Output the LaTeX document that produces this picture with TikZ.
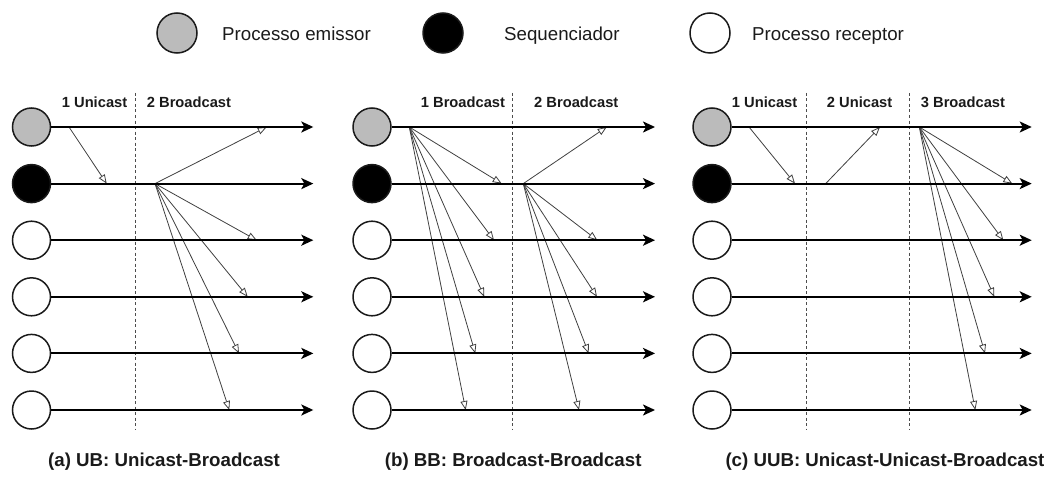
\documentclass[tikz,border=0pt]{standalone}
\usepackage{fontspec}
\setmainfont{Liberation Sans}
\usetikzlibrary{arrows.meta}
\definecolor{emgray}{HTML}{BBBBBB}
\definecolor{ink}{HTML}{1A1A1A}
\def\ya{127}\def\yb{183.6}\def\yc{240.2}\def\yd{296.8}\def\ye{353.4}\def\yf{410}
\begin{document}
\begin{tikzpicture}[x=1pt,y=-1pt,
 proc/.style={circle,draw=ink,line width=1.5pt,minimum size=38pt,inner sep=0pt},
 sender/.style={proc,fill=emgray},
 seqr/.style={proc,fill=black},
 recv/.style={proc,fill=white},
 legproc/.style={minimum size=40pt},
 timeline/.style={draw=black,line width=2pt,-{Stealth[length=12pt,width=11pt,inset=3pt]}},
 msg/.style={draw=black!75,line width=0.8pt,-{Triangle[length=9pt,width=7pt,fill=white,line width=0.8pt]}},
 phase/.style={draw=black!70,line width=0.8pt,dash pattern=on 3pt off 2.5pt},
 lbl/.style={font=\fontsize{14.7}{17}\selectfont\bfseries,text=ink,inner sep=0pt,anchor=base west},
 legtext/.style={font=\fontsize{18.7}{22}\selectfont,text=ink,inner sep=0pt,anchor=base west},
 captext/.style={font=\fontsize{18.7}{22}\selectfont\bfseries,text=ink,inner sep=0pt,anchor=base west}]
\useasboundingbox (0,0) rectangle (1048,476);

% legend
\node[sender,legproc] (lg1) at (177,33) {};
\node[legtext] (lt1) at (222,41) {Processo emissor};
\node[seqr,legproc] (lg2) at (443,33) {};
\node[legtext] (lt2) at (504,41) {Sequenciador};
\node[recv,legproc] (lg3) at (710,33) {};
\node[legtext] (lt3) at (752,41) {Processo receptor};

% phase separators
\foreach \n/\x in {a/135, b/512.7, c1/806, c2/909.3}{
  \coordinate (d\n t) at (\x,93);
  \coordinate (d\n b) at (\x,430);
  \draw[phase] (d\n t) -- (d\n b);
}

% phase labels
\node[lbl] (la1) at (61.7,107.3) {1 Unicast};
\node[lbl] (la2) at (146.7,107.3) {2 Broadcast};
\node[lbl] (lb1) at (420.7,107.3) {1 Broadcast};
\node[lbl] (lb2) at (534,107.3) {2 Broadcast};
\node[lbl] (lc1) at (731.7,107.3) {1 Unicast};
\node[lbl] (lc2) at (826.7,107.3) {2 Unicast};
\node[lbl] (lc3) at (920.7,107.3) {3 Broadcast};

% ---------- panel (a) ----------
\coordinate (aUs) at (69,\ya);
\coordinate (aUt) at (106.7,\yb);
\draw[msg] (aUs) -- (aUt);
\coordinate (aBs) at (155,\yb);
\foreach \n/\x/\y in {1/266.7/\ya,3/256.7/\yc,4/247.7/\yd,5/239/\ye,6/229.3/\yf}{
  \coordinate (aB\n) at (\x,\y);
  \draw[msg] (aBs) -- (aB\n);
}

% ---------- panel (b) ----------
\coordinate (bAs) at (409.3,\ya);
\foreach \n/\x/\y in {2/501.7/\yb,3/494/\yc,4/484.3/\yd,5/475.3/\ye,6/465.7/\yf}{
  \coordinate (bA\n) at (\x,\y);
  \draw[msg] (bAs) -- (bA\n);
}
\coordinate (bBs) at (523.3,\yb);
\foreach \n/\x/\y in {1/606.7/\ya,3/597.3/\yc,4/597/\yd,5/588.7/\ye,6/579/\yf}{
  \coordinate (bB\n) at (\x,\y);
  \draw[msg] (bBs) -- (bB\n);
}

% ---------- panel (c) ----------
\coordinate (cUs) at (749,\ya);
\coordinate (cUt) at (795,\yb);
\draw[msg] (cUs) -- (cUt);
\coordinate (cVs) at (825.7,\yb);
\coordinate (cVt) at (880,\ya);
\draw[msg] (cVs) -- (cVt);
\coordinate (cBs) at (919.3,\ya);
\foreach \n/\x/\y in {2/1012.3/\yb,3/1003.3/\yc,4/994.3/\yd,5/985/\ye,6/975.3/\yf}{
  \coordinate (cB\n) at (\x,\y);
  \draw[msg] (cBs) -- (cB\n);
}

% ---------- processes and timelines ----------
\foreach \p/\cx/\ex in {a/31.5/313.3, b/372/655, c/712/1031.7}{
  \foreach \i/\st/\y in {1/sender/\ya,2/seqr/\yb,3/recv/\yc,4/recv/\yd,5/recv/\ye,6/recv/\yf}{
    \node[\st] (\p\i) at (\cx,\y) {};
    \coordinate (\p e\i) at (\ex,\y);
    \draw[timeline] (\p\i) -- (\p e\i);
  }
}

% captions
\node[captext] (capa) at (48,466.5) {(a) UB: Unicast-Broadcast};
\node[captext] (capb) at (384.7,466.5) {(b) BB: Broadcast-Broadcast};
\node[captext] (capc) at (725.3,466.5) {(c) UUB: Unicast-Unicast-Broadcast};
\end{tikzpicture}
\end{document}
